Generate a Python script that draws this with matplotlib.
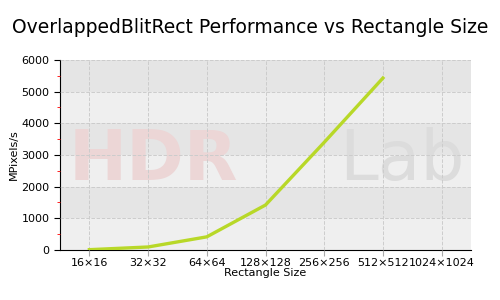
import matplotlib.pyplot as plt
import numpy as np

# datos
sizes = ['16×16', '32×32', '64×64', '128×128', '256×256', '512×512', '1024×1024']
mpix = [10, 95, 415, 1420, 3400, 5430]

fig = plt.figure(figsize=(5, 3), dpi=100)
ax = fig.add_axes([0.12, 0.1667, 0.822, 0.6333])

# franjas de fondo
for k in range(6):
    c = '#e5e5e5' if k % 2 == 1 else '#efefef'
    ax.axhspan(k * 1000, (k + 1) * 1000, color=c, zorder=0, lw=0)

# marca de agua
ax.text(0.02, 0.47, 'HDR', transform=ax.transAxes, fontsize=50, fontweight='bold',
        color='#ecd6d6', va='center', zorder=1)
ax.text(0.68, 0.47, 'Lab', transform=ax.transAxes, fontsize=50,
        color='#dcdcdc', va='center', zorder=1)

x = np.arange(len(sizes))
ax.plot(x[:len(mpix)], mpix, color='#b8d828', lw=2.4, zorder=3)

ax.set_xlim(-0.5, 6.5)
ax.set_ylim(0, 6000)
ax.set_xticks(x)
ax.set_xticklabels(sizes, fontsize=8)
ax.set_yticks(np.arange(0, 6001, 1000))
ax.set_yticks(np.arange(500, 6000, 1000), minor=True)
ax.tick_params(axis='y', labelsize=8, length=4)
ax.tick_params(axis='y', which='minor', length=2, color='red')
ax.tick_params(axis='x', length=4, color='#aaaaaa', pad=2)
ax.grid(True, which='major', ls='--', color='#cccccc', lw=0.7, zorder=2)
ax.set_axisbelow(False)
for s in ['top', 'right']:
    ax.spines[s].set_visible(False)

ax.set_xlabel('Rectangle Size', fontsize=8, labelpad=0)
ax.set_ylabel('MPixels/s', fontsize=8, labelpad=2)
fig.suptitle('OverlappedBlitRect Performance vs Rectangle Size', fontsize=13.5, y=0.94)

fig.savefig('out.png', dpi=100)
